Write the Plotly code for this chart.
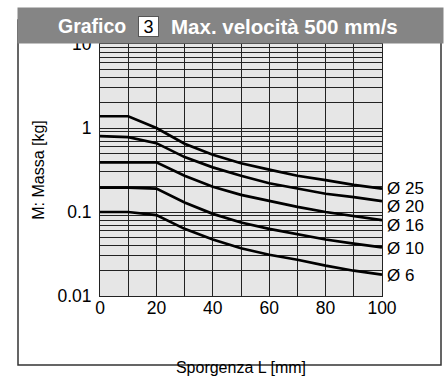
import math
import plotly.graph_objects as go

L = [0, 10, 20, 30, 40, 50, 60, 70, 80, 90, 100]
d25 = [1.38, 1.38, 1.0, 0.65, 0.48, 0.38, 0.32, 0.27, 0.24, 0.21, 0.19]
d20 = [0.80, 0.78, 0.66, 0.45, 0.34, 0.27, 0.22, 0.19, 0.165, 0.15, 0.135]
d16 = [0.39, 0.39, 0.39, 0.27, 0.20, 0.16, 0.135, 0.115, 0.10, 0.09, 0.08]
d10 = [0.195, 0.195, 0.19, 0.13, 0.095, 0.075, 0.063, 0.054, 0.047, 0.042, 0.038]
d6 = [0.10, 0.10, 0.092, 0.063, 0.047, 0.037, 0.031, 0.027, 0.023, 0.020, 0.018]
labels = ["Ø 25", "Ø 20", "Ø 16", "Ø 10", "Ø 6"]
label_y = [0.19, 0.115, 0.07, 0.037, 0.0175]
yticks = [0.01, 0.1, 1, 10]
ytext = ["0.01", "0.1", "1", "10"]
xticks = [0, 20, 40, 60, 80, 100]

FONT = "Liberation Sans, Arial, sans-serif"
fig = go.Figure()
for s in [d25, d20, d16, d10, d6]:
    fig.add_trace(go.Scatter(x=L, y=s, mode="lines", line=dict(color="black", width=2.7),
                             showlegend=False, hoverinfo="skip", cliponaxis=False))

for t, yv in zip(labels, label_y):
    fig.add_annotation(x=100, y=math.log10(yv), xref="x", yref="y", text=t,
                       showarrow=False, xanchor="left", xshift=3,
                       font=dict(family=FONT, size=17, color="black"))

minor_vals = [m * 10 ** e for e in range(-2, 1) for m in range(2, 10)]

fig.update_xaxes(range=[0, 100], tickvals=xticks, showgrid=True, gridcolor="#222", gridwidth=1,
                 minor=dict(dtick=10, showgrid=True, gridcolor="#222", gridwidth=1),
                 showline=True, linecolor="#222", linewidth=1, mirror=True, zeroline=False,
                 ticks="", automargin=False, ticklabelstandoff=-4,
                 tickfont=dict(family=FONT, size=17.5, color="black"),
                 title=dict(text="Sporgenza L [mm]", font=dict(family=FONT, size=16, color="black"), standoff=44))
fig.update_yaxes(type="log", range=[-2, 1], tickvals=yticks, ticktext=ytext, showgrid=True,
                 gridcolor="#222", gridwidth=1,
                 minor=dict(tickvals=minor_vals, showgrid=True, gridcolor="#222", gridwidth=1),
                 showline=True, linecolor="#222", linewidth=1, mirror=True, automargin=False,
                 ticks="", ticklabelstandoff=4, tickfont=dict(family=FONT, size=17.5, color="black"),
                 title=dict(text="M: Massa [kg]", font=dict(family=FONT, size=16, color="black"), standoff=8))

# frame and title bar (paper coords from pixel layout)
def px(x):
    return (x - 100) / 282.0

def py(y):
    return (296 - y) / 252.0

fig.add_shape(type="rect", xref="paper", yref="paper", x0=px(18), x1=px(441), y0=py(365), y1=py(20),
              line=dict(color="#333", width=1.5), fillcolor="rgba(0,0,0,0)", layer="below")
fig.add_annotation(xref="paper", yref="paper", x=px(230.5), y=py(25.5), text=" ", showarrow=False,
                   xanchor="center", yanchor="middle", bgcolor="#858585", borderpad=0,
                   width=425, height=35, font=dict(size=10))
fig.add_annotation(xref="paper", yref="paper", x=px(128), y=py(26), text="<b>Grafico</b>", showarrow=False,
                   xanchor="right", yanchor="middle", font=dict(family=FONT, size=19.5, color="white"))
fig.add_annotation(xref="paper", yref="paper", x=px(148), y=py(26.5), text="3", showarrow=False,
                   xanchor="center", yanchor="middle", bgcolor="white", bordercolor="#555", borderwidth=1,
                   borderpad=0, width=19, height=19, font=dict(family=FONT, size=18, color="black"))
fig.add_annotation(xref="paper", yref="paper", x=px(169), y=py(26), text="<b>Max. velocità 500 mm/s</b>",
                   showarrow=False, xanchor="left", yanchor="middle", font=dict(family=FONT, size=20.5, color="white"))

fig.update_layout(width=447, height=378, margin=dict(l=100, r=65, t=44, b=82),
                  paper_bgcolor="white", plot_bgcolor="#e6e6e6")
fig.write_html("out.html")
